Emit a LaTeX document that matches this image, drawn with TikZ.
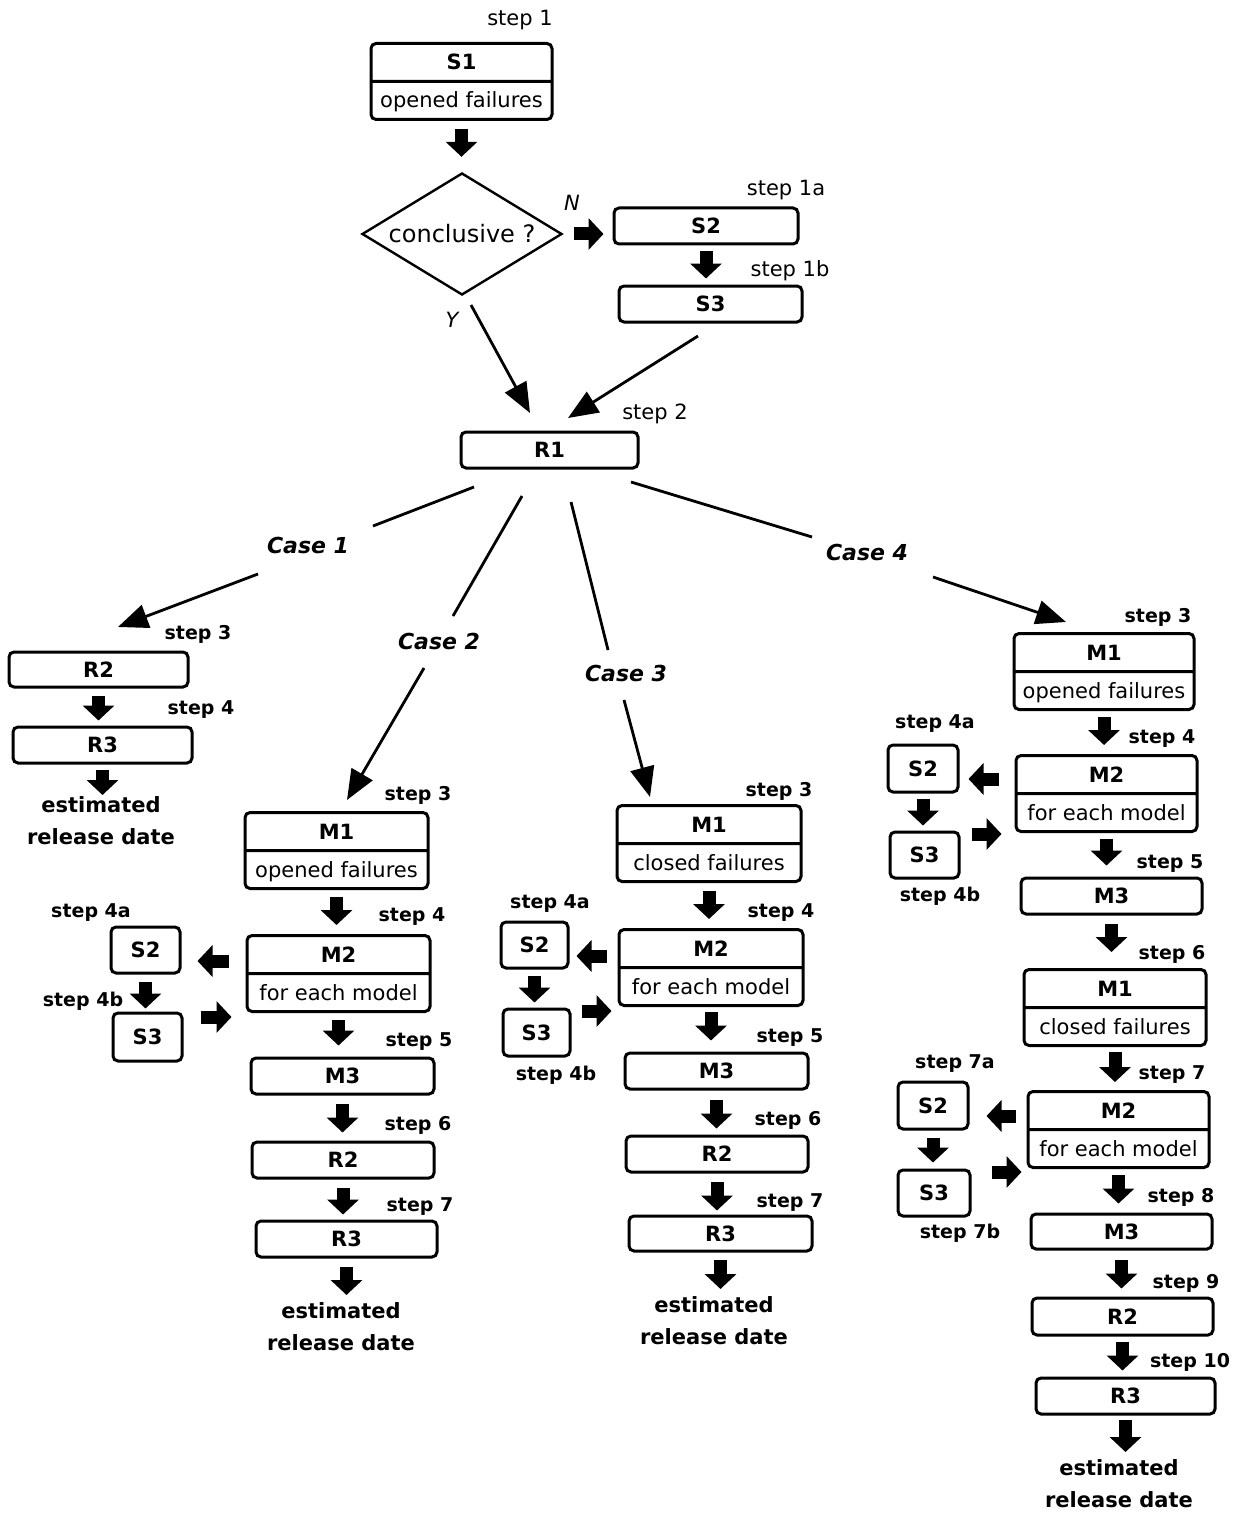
\documentclass[tikz,border=0pt]{standalone}
\usepackage{fontspec}
\setmainfont{DejaVu Sans}
\usetikzlibrary{arrows.meta,shapes.geometric,shapes.multipart,calc}
\newcommand\bxstrut{\rule[-10pt]{0pt}{35pt}}
\newcommand\dnarrow[4]{\draw[blk,shorten <=#3pt,shorten >=#4pt] (#1.south) -- (#1.south |- #2.north);}
\begin{document}
\begin{tikzpicture}[x=1pt,y=-1pt,
  box/.style={draw,line width=3pt,rounded corners=5pt,inner sep=0pt,
    font={\fontsize{21pt}{25pt}\selectfont\bfseries}},
  twobox/.style={draw,line width=3pt,rounded corners=5pt,rectangle split,
    rectangle split parts=2,inner xsep=1pt,inner ysep=0pt,anchor=north,
    font={\fontsize{21pt}{25pt}\selectfont}},
  stp/.style={inner sep=0pt,font={\fontsize{19pt}{23pt}\selectfont\bfseries}},
  stpr/.style={inner sep=0pt,font={\fontsize{21pt}{25pt}\selectfont}},
  yn/.style={inner sep=0pt,font={\fontsize{21pt}{25pt}\selectfont\itshape}},
  casel/.style={inner sep=0pt,font={\fontsize{22pt}{26pt}\selectfont\bfseries\itshape}},
  est/.style={inner sep=0pt,anchor=north,align=center,
    font={\fontsize{21pt}{32pt}\selectfont\bfseries}},
  blk/.style={line width=13pt,-{Triangle[length=15pt,width=31pt]}},
  thinln/.style={line width=2.8pt},
  thinarr/.style={line width=2.8pt,-{Triangle[length=30pt,width=24pt]}}
]
\useasboundingbox (0,0) rectangle (1238,1514);

% ---------- top part ----------
\node[stpr] (st1) at (520,20) {step 1};
\node[twobox,minimum width=181pt] (S1) at (461.5,42) {\textbf{S1}\bxstrut\nodepart{two}opened failures\bxstrut};
\node[draw,line width=2.4pt,diamond,aspect=1.64,minimum width=200pt,minimum height=122pt,
  inner sep=0pt,font={\fontsize{24pt}{28pt}\selectfont}] (D) at (462,234) {conclusive ?};
\node[yn] (N) at (572,203) {N};
\node[yn] (Y) at (452,320) {Y};
\node[stpr] (st1a) at (786,190) {step 1a};
\node[box,minimum width=184pt,minimum height=36pt] (S2t) at (706,226) {S2};
\node[stpr] (st1b) at (790,271) {step 1b};
\node[box,minimum width=183pt,minimum height=36pt] (S3t) at (710.5,304) {S3};
\node[stpr] (st2) at (655,414) {step 2};
\node[box,minimum width=177pt,minimum height=36pt] (R1) at (549.5,450) {R1};

\dnarrow{S1}{D}{8}{15}
\draw[blk,shorten <=11pt,shorten >=9pt] (D.east) -- (D.east -| S2t.west);
\dnarrow{S2t}{S3t}{6}{6}

\coordinate (ya) at (471,305); \coordinate (yb) at (530,413);
\draw[thinarr] (ya) -- (yb);
\coordinate (sa) at (698,336); \coordinate (sb) at (568,418);
\draw[thinarr] (sa) -- (sb);

% ---------- case labels and branch lines ----------
\node[casel] (K1) at (308,545) {Case 1};
\node[casel] (K2) at (439,641) {Case 2};
\node[casel] (K3) at (626,673) {Case 3};
\node[casel] (K4) at (867,552) {Case 4};
\coordinate (k1a) at (474,487); \coordinate (k1b) at (373,526);
\coordinate (k1c) at (258,574); \coordinate (k1d) at (118,627);
\coordinate (k2a) at (522,496); \coordinate (k2b) at (453,616);
\coordinate (k2c) at (424,668); \coordinate (k2d) at (347,800);
\coordinate (k3a) at (571,502); \coordinate (k3b) at (608,650);
\coordinate (k3c) at (624,700); \coordinate (k3d) at (650,797);
\coordinate (k4a) at (631,482); \coordinate (k4b) at (812,537);
\coordinate (k4c) at (933,577); \coordinate (k4d) at (1066,622);
\draw[thinln] (k1a) -- (k1b); \draw[thinarr] (k1c) -- (k1d);
\draw[thinln] (k2a) -- (k2b); \draw[thinarr] (k2c) -- (k2d);
\draw[thinln] (k3a) -- (k3b); \draw[thinarr] (k3c) -- (k3d);
\draw[thinln] (k4a) -- (k4b); \draw[thinarr] (k4c) -- (k4d);

% ---------- case 1 ----------
\node[stp] (c1s3) at (198,634) {step 3};
\node[box,minimum width=179pt,minimum height=35pt] (c1R2) at (98.5,669.5) {R2};
\node[stp] (c1s4) at (201,710) {step 4};
\node[box,minimum width=179pt,minimum height=36pt] (c1R3) at (102.5,745) {R3};
\node[est] (c1E) at (101,796) {estimated\\release date};
\dnarrow{c1R2}{c1R3}{7}{5}
\dnarrow{c1R3}{c1E}{5}{1}

% ---------- case 2 ----------
\node[stp] (c2s3) at (418,795) {step 3};
\node[twobox,minimum width=183pt] (c2M1) at (336.5,811) {\textbf{M1}\bxstrut\nodepart{two}opened failures\bxstrut};
\node[stp] (c2s4) at (412,917) {step 4};
\node[twobox,minimum width=183pt] (c2M2) at (338.5,934) {\textbf{M2}\bxstrut\nodepart{two}for each model\bxstrut};
\node[stp] (c2s4a) at (91,913) {step 4a};
\node[box,minimum width=69pt,minimum height=46pt] (c2S2) at (145.5,950) {S2};
\node[stp] (c2s4b) at (83,1001) {step 4b};
\node[box,minimum width=69pt,minimum height=48pt] (c2S3) at (147.5,1037) {S3};
\node[stp] (c2s5) at (419,1042) {step 5};
\node[box,minimum width=183pt,minimum height=36pt] (c2M3) at (342.5,1076) {M3};
\node[stp] (c2s6) at (418,1125) {step 6};
\node[box,minimum width=182pt,minimum height=36pt] (c2R2) at (343,1160) {R2};
\node[stp] (c2s7) at (420,1207) {step 7};
\node[box,minimum width=181pt,minimum height=36pt] (c2R3) at (346.5,1239) {R3};
\node[est] (c2E) at (341,1302) {estimated\\release date};
\dnarrow{c2M1}{c2M2}{7}{9}
\dnarrow{c2S2}{c2S3}{7}{3}
\dnarrow{c2M2}{c2M3}{7}{11}
\dnarrow{c2M3}{c2R2}{8}{8}
\dnarrow{c2R2}{c2R3}{8}{5}
\dnarrow{c2R3}{c2E}{8}{7}
\coordinate (c2la) at ([xshift=-17pt,yshift=-27pt]c2M2.north west);
\draw[blk,shorten >=16pt] (c2la) -- (c2la -| c2S2.east);
\coordinate (c2ra) at ([xshift=17pt,yshift=20pt]c2S3.east);
\draw[blk,shorten >=14pt] (c2ra) -- (c2ra -| c2M2.west);

% ---------- case 3 ----------
\node[stp] (c3s3) at (779,791) {step 3};
\node[twobox,minimum width=184pt] (c3M1) at (709,804) {\textbf{M1}\bxstrut\nodepart{two}closed failures\bxstrut};
\node[stp] (c3s4) at (781,913) {step 4};
\node[twobox,minimum width=184pt] (c3M2) at (711,928) {\textbf{M2}\bxstrut\nodepart{two}for each model\bxstrut};
\node[stp] (c3s4a) at (550,904) {step 4a};
\node[box,minimum width=67pt,minimum height=46pt] (c3S2) at (534.5,945) {S2};
\node[box,minimum width=67pt,minimum height=47pt] (c3S3) at (536.5,1032.5) {S3};
\node[stp] (c3s4b) at (556,1075) {step 4b};
\node[stp] (c3s5) at (790,1038) {step 5};
\node[box,minimum width=183pt,minimum height=36pt] (c3M3) at (716.5,1071) {M3};
\node[stp] (c3s6) at (788,1120) {step 6};
\node[box,minimum width=182pt,minimum height=36pt] (c3R2) at (717,1154) {R2};
\node[stp] (c3s7) at (790,1203) {step 7};
\node[box,minimum width=183pt,minimum height=35pt] (c3R3) at (720.5,1233.5) {R3};
\node[est] (c3E) at (714,1296) {estimated\\release date};
\dnarrow{c3M1}{c3M2}{8}{9}
\dnarrow{c3S2}{c3S3}{6}{5}
\dnarrow{c3M2}{c3M3}{5}{11}
\dnarrow{c3M3}{c3R2}{9}{6}
\dnarrow{c3R2}{c3R3}{8}{4}
\dnarrow{c3R3}{c3E}{7}{7}
\coordinate (c3la) at ([xshift=-11pt,yshift=-28pt]c3M2.north west);
\draw[blk,shorten >=7pt] (c3la) -- (c3la -| c3S2.east);
\coordinate (c3ra) at ([xshift=10pt,yshift=21.5pt]c3S3.east);
\draw[blk,shorten >=6pt] (c3ra) -- (c3ra -| c3M2.west);

% ---------- case 4 ----------
\node[stp] (c4s3) at (1158,617) {step 3};
\node[twobox,minimum width=180pt] (c4M1) at (1104,632) {\textbf{M1}\bxstrut\nodepart{two}opened failures\bxstrut};
\node[stp] (c4s4) at (1162,739) {step 4};
\node[twobox,minimum width=181pt] (c4M2) at (1106.5,754) {\textbf{M2}\bxstrut\nodepart{two}for each model\bxstrut};
\node[stp] (c4s4a) at (935,724) {step 4a};
\node[box,minimum width=70pt,minimum height=47pt] (c4S2) at (923,768.5) {S2};
\node[box,minimum width=69pt,minimum height=46pt] (c4S3) at (924.5,855) {S3};
\node[stp] (c4s4b) at (940,896) {step 4b};
\node[stp] (c4s5) at (1170,864) {step 5};
\node[box,minimum width=181pt,minimum height=36pt] (c4M3) at (1111.5,896) {M3};
\node[stp] (c4s6) at (1172,954) {step 6};
\node[twobox,minimum width=182pt] (c4M1b) at (1115,968) {\textbf{M1}\bxstrut\nodepart{two}closed failures\bxstrut};
\node[stp] (c4s7) at (1172,1075) {step 7};
\node[twobox,minimum width=181pt] (c4M2b) at (1118.5,1090) {\textbf{M2}\bxstrut\nodepart{two}for each model\bxstrut};
\node[stp] (c4s7a) at (955,1064) {step 7a};
\node[box,minimum width=70pt,minimum height=47pt] (c4S2b) at (933,1105.5) {S2};
\node[box,minimum width=72pt,minimum height=46pt] (c4S3b) at (934,1193) {S3};
\node[stp] (c4s7b) at (960,1233) {step 7b};
\node[stp] (c4s8) at (1181,1197) {step 8};
\node[box,minimum width=181pt,minimum height=35pt] (c4M3b) at (1121.5,1231.5) {M3};
\node[stp] (c4s9) at (1186,1283) {step 9};
\node[box,minimum width=181pt,minimum height=37pt] (c4R2) at (1122.5,1316.5) {R2};
\node[stp] (c4s10) at (1190,1362) {step 10};
\node[box,minimum width=179pt,minimum height=36pt] (c4R3) at (1125.5,1396) {R3};
\node[est] (c4E) at (1119,1459) {estimated\\release date};
\dnarrow{c4M1}{c4M2}{6}{9}
\dnarrow{c4S2}{c4S3}{5}{5}
\dnarrow{c4M2}{c4M3}{6}{11}
\dnarrow{c4M3}{c4M1b}{8}{16}
\dnarrow{c4M1b}{c4M2b}{5}{8}
\dnarrow{c4S2b}{c4S3b}{7}{6}
\dnarrow{c4M2b}{c4M3b}{6}{9}
\dnarrow{c4M3b}{c4R2}{9}{8}
\dnarrow{c4R2}{c4R3}{5}{6}
\dnarrow{c4R3}{c4E}{4}{7}
\coordinate (c4la) at ([xshift=-16pt,yshift=-25pt]c4M2.north west);
\draw[blk,shorten >=9pt] (c4la) -- (c4la -| c4S2.east);
\coordinate (c4ra) at ([xshift=11pt,yshift=21pt]c4S3.east);
\draw[blk,shorten >=13pt] (c4ra) -- (c4ra -| c4M2.west);
\coordinate (c4lb) at ([xshift=-11pt,yshift=-26pt]c4M2b.north west);
\draw[blk,shorten >=17pt] (c4lb) -- (c4lb -| c4S2b.east);
\coordinate (c4rb) at ([xshift=20pt,yshift=21pt]c4S3b.east);
\draw[blk,shorten >=5pt] (c4rb) -- (c4rb -| c4M2b.west);
\end{tikzpicture}
\end{document}
